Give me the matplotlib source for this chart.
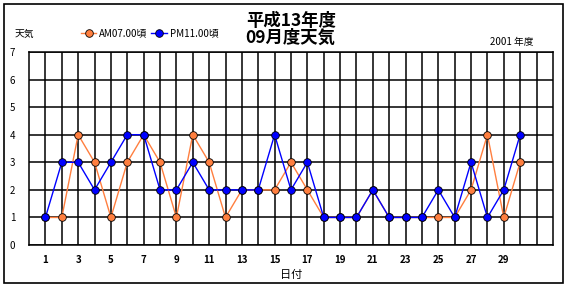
import matplotlib
matplotlib.use("Agg")
from matplotlib import pyplot as plt
from matplotlib.patches import Rectangle

plt.rcParams['font.family'] = ['Noto Sans CJK JP', 'DejaVu Sans']

# data (September, Heisei 13)
days = list(range(1, 31))
am_weather = [1, 1, 4, 3, 1, 3, 4, 3, 1, 4, 3, 1, 2, 2, 2, 3, 2, 1, 1, 1, 2, 1, 1, 1, 1, 1, 2, 4, 1, 3]
pm_weather = [1, 3, 3, 2, 3, 4, 4, 2, 2, 3, 2, 2, 2, 2, 4, 2, 3, 1, 1, 1, 2, 1, 1, 1, 2, 1, 3, 1, 2, 4]
x_labels = [str(d) for d in range(1, 30, 2)]

fig = plt.figure(figsize=(5.7, 2.9), dpi=100)
fig.patches.append(Rectangle((0.007, 0.024), 0.981, 0.962, transform=fig.transFigure,
                             fill=False, edgecolor='black', linewidth=1.2))

ax = fig.add_axes([0.051, 0.155, 0.919, 0.666])
ax.plot(days, am_weather, color='#ff7f3f', linewidth=1, marker='o', markersize=5.5,
        markerfacecolor='#ff7f3f', markeredgecolor='black', markeredgewidth=0.6,
        label='AM07.00頃', zorder=3)
ax.plot(days, pm_weather, color='#0000ff', linewidth=1, marker='o', markersize=5.5,
        markerfacecolor='#0000ff', markeredgecolor='black', markeredgewidth=0.6,
        label='PM11.00頃', zorder=4)

ax.set_xlim(0, 32)
ax.set_ylim(0, 7)
ax.set_xticks(range(1, 32), minor=True)
ax.set_xticks(range(1, 30, 2))
ax.set_xticklabels(x_labels, fontsize=7, fontweight='bold')
ax.set_yticks(range(0, 8))
ax.set_yticklabels([str(v) for v in range(0, 8)], fontsize=7)
ax.tick_params(length=0, which='both', pad=7)
ax.tick_params(axis='y', pad=10)
ax.grid(True, which='both', axis='x', color='black', linewidth=1.1)
ax.grid(True, axis='y', color='black', linewidth=1.1)
for s in ax.spines.values():
    s.set_linewidth(1.1)

ax.set_xlabel('日付', fontsize=8, labelpad=4)

fig.text(0.026, 0.872, '天気', fontsize=7)
fig.text(0.86, 0.845, '2001 年度', fontsize=7)
fig.text(0.51, 0.898, '平成13年度\n09月度天気', fontsize=12.5, fontweight='bold',
         ha='center', va='center', linespacing=0.95)

fig.legend(loc='center left', bbox_to_anchor=(0.135, 0.885), ncol=2, frameon=False,
           fontsize=7, handlelength=1.6, handletextpad=0.3, columnspacing=0.4,
           borderaxespad=0)

fig.savefig('out.png', dpi=100)
